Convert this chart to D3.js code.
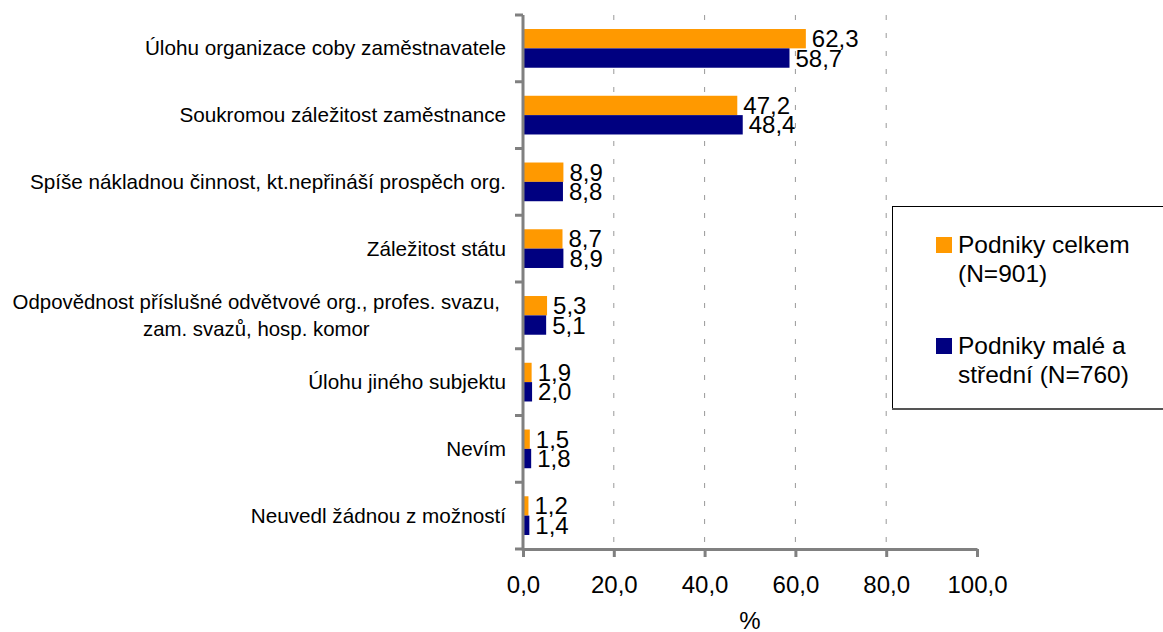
<!DOCTYPE html>
<html>
<head>
<meta charset="utf-8">
<script src="https://cdn.jsdelivr.net/npm/d3@7"></script>
<style>
  body { margin: 0; background: #fff; }
  svg { font-family: "Liberation Sans", Arial, sans-serif; }
</style>
</head>
<body>
<svg id="chart" width="1163" height="632"></svg>
<script>
var categories = [
  ["Úlohu organizace coby zaměstnavatele"],
  ["Soukromou záležitost zaměstnance"],
  ["Spíše nákladnou činnost, kt.nepřináší prospěch org."],
  ["Záležitost státu"],
  ["Odpovědnost příslušné odvětvové org., profes. svazu,", "zam. svazů, hosp. komor"],
  ["Úlohu jiného subjektu"],
  ["Nevím"],
  ["Neuvedl žádnou z možností"]
];
var celkem = [62.3, 47.2, 8.9, 8.7, 5.3, 1.9, 1.5, 1.2];
var maleStredni = [58.7, 48.4, 8.8, 8.9, 5.1, 2.0, 1.8, 1.4];
var seriesNames = [["Podniky celkem", "(N=901)"], ["Podniky malé a", "střední (N=760)"]];
var colors = ["#FF9900", "#000080"];
var xTicks = [0, 20, 40, 60, 80, 100];

var svg = d3.select("#chart");
var plotLeft = 523, plotRight = 977, plotTop = 15, plotBottom = 549;
var fmt = function(d) { return d.toFixed(1).replace(".", ","); };

var x = d3.scaleLinear().domain([0, 100]).range([plotLeft, plotRight]);
var y = d3.scaleBand().domain(d3.range(categories.length)).range([plotTop, plotBottom]).paddingInner(0.42).paddingOuter(0.21);
var sub = d3.scaleBand().domain([0, 1]).range([0, y.bandwidth()]);

// gridlines (none at 0 and at the right edge)
svg.append("g").selectAll("line")
  .data(xTicks.slice(1, -1))
  .enter().append("line")
  .attr("x1", function(d) { return x(d); })
  .attr("x2", function(d) { return x(d); })
  .attr("y1", plotTop).attr("y2", plotBottom)
  .attr("stroke", "#999").attr("stroke-width", 1)
  .attr("stroke-dasharray", "5,13");

// bars + value labels
var series = [celkem, maleStredni];
series.forEach(function(vals, s) {
  var g = svg.append("g");
  g.selectAll("rect")
    .data(vals)
    .enter().append("rect")
    .attr("x", x(0))
    .attr("y", function(d, i) { return y(i) + sub(s); })
    .attr("width", function(d) { return x(d) - x(0); })
    .attr("height", sub.bandwidth())
    .attr("fill", colors[s]);
  g.selectAll("text")
    .data(vals)
    .enter().append("text")
    .attr("x", function(d) { return x(d) + 6; })
    .attr("y", function(d, i) { return y(i) + sub(s) + sub.bandwidth() / 2 + 8.5; })
    .style("font-size", "24px")
    .text(fmt);
});

// x axis
var xAxis = d3.axisBottom(x).tickValues(xTicks).tickFormat(fmt).tickSize(8).tickSizeOuter(0);
var gx = svg.append("g").attr("transform", "translate(0," + plotBottom + ")").call(xAxis);
gx.select(".domain").attr("stroke", "#808080").attr("stroke-width", 3);
gx.selectAll(".tick line").attr("stroke", "#808080").attr("stroke-width", 3);
gx.selectAll(".tick text")
  .style("font-size", "24px").style("font-family", "Liberation Sans, Arial, sans-serif")
  .attr("fill", "#000").attr("y", 44).attr("dy", null);

// y axis with category boundary ticks
var bounds = d3.range(categories.length + 1).map(function(i) {
  return plotTop + i * (plotBottom - plotTop) / categories.length;
});
var gy = svg.append("g");
gy.append("line").attr("x1", plotLeft).attr("x2", plotLeft).attr("y1", plotTop).attr("y2", plotBottom + 1.5)
  .attr("stroke", "#808080").attr("stroke-width", 3);
gy.selectAll("line.t").data(bounds).enter().append("line").attr("class", "t")
  .attr("x1", plotLeft - 8).attr("x2", plotLeft)
  .attr("y1", function(d) { return d; }).attr("y2", function(d) { return d; })
  .attr("stroke", "#808080").attr("stroke-width", 3);

// category labels
var labX = 506;
categories.forEach(function(lines, i) {
  var cy = y(i) + y.bandwidth() / 2;
  var t = svg.append("text").style("font-size", "20.7px").attr("fill", "#000");
  if (lines.length === 1) {
    t.attr("text-anchor", "end").attr("x", labX).attr("y", cy + 7).text(lines[0]);
  } else {
    t.style("font-size", "20.4px");
    lines.forEach(function(l, k) {
      t.append("tspan").attr("x", 0).attr("y", cy + 7 - 13.5 + k * 27).text(l);
    });
    var tw = [];
    t.selectAll("tspan").each(function() { tw.push(this.getComputedTextLength()); });
    var maxW = d3.max(tw);
    t.attr("text-anchor", "middle").selectAll("tspan").attr("x", labX - 6 - maxW / 2);
  }
});

// x axis title
svg.append("text").attr("x", x(50)).attr("y", 629).attr("text-anchor", "middle")
  .style("font-size", "24px").text("%");

// legend
var lg = svg.append("g");
lg.append("rect").attr("x", 892.5).attr("y", 206.5).attr("width", 280).attr("height", 202)
  .attr("fill", "#fff").attr("stroke", "#000").attr("stroke-width", 1);
lg.append("line").attr("x1", 892).attr("x2", 1163).attr("y1", 409).attr("y2", 409)
  .attr("stroke", "#555").attr("stroke-width", 2);
var legTop = [237, 338];
seriesNames.forEach(function(lines, s) {
  lg.append("rect").attr("x", 936).attr("y", legTop[s]).attr("width", 16).attr("height", 16).attr("fill", colors[s]);
  lines.forEach(function(l, k) {
    lg.append("text").attr("x", 958).attr("y", legTop[s] + 16 + k * 29)
      .style("font-size", "24.5px").text(l);
  });
});
</script>
</body>
</html>
